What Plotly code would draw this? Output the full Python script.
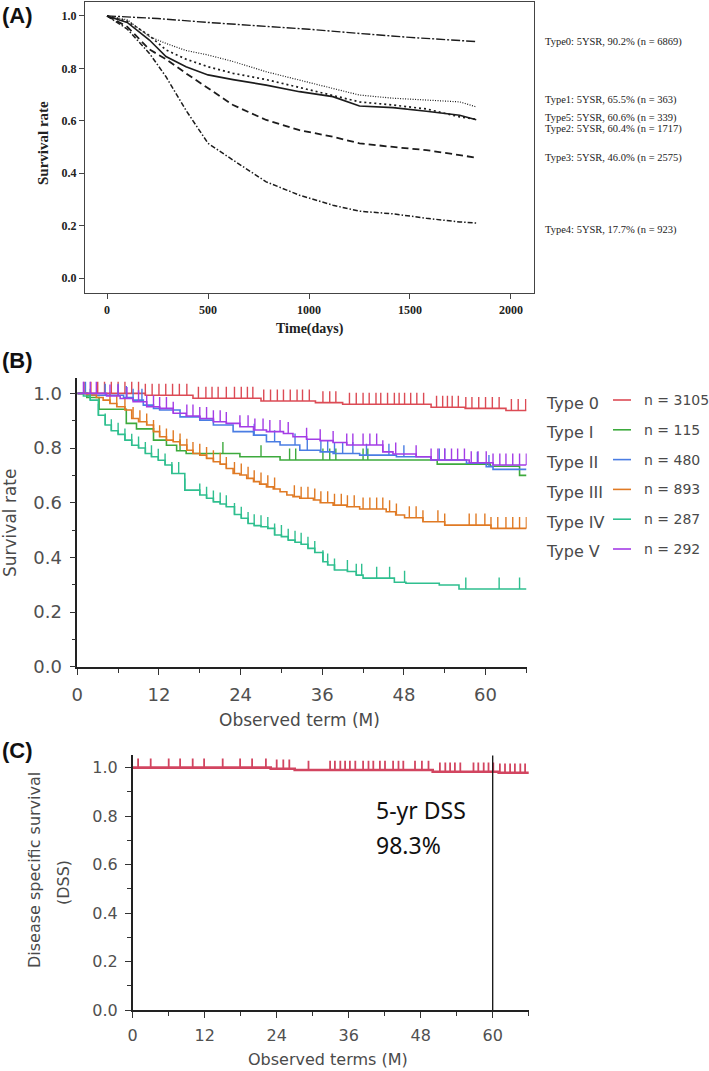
import plotly.graph_objects as go

# ---------------- Panel A data (days, survival) ----------------
a_type0_days = [0, 250, 500, 750, 1000, 1250, 1500, 1828]
a_type0_surv = [1.0, 0.99, 0.975, 0.962, 0.949, 0.933, 0.918, 0.902]
a_days = [0, 100, 210, 292, 391, 500, 624, 788, 953, 1118, 1250, 1416, 1581, 1746, 1828]
a_type1_surv = [1.0, 0.985, 0.921, 0.895, 0.868, 0.851, 0.826, 0.787, 0.755, 0.724, 0.698, 0.686, 0.679, 0.672, 0.653]
a_type5_surv = [1.0, 0.98, 0.925, 0.87, 0.835, 0.806, 0.781, 0.757, 0.727, 0.695, 0.672, 0.66, 0.645, 0.615, 0.606]
a_type2_surv = [1.0, 0.975, 0.908, 0.845, 0.806, 0.775, 0.757, 0.736, 0.711, 0.692, 0.656, 0.65, 0.636, 0.621, 0.604]
a_type3_surv = [1.0, 0.959, 0.872, 0.835, 0.781, 0.725, 0.66, 0.603, 0.564, 0.539, 0.514, 0.50, 0.488, 0.469, 0.459]
a_type4_surv = [1.0, 0.95, 0.857, 0.768, 0.64, 0.514, 0.45, 0.367, 0.316, 0.278, 0.255, 0.245, 0.228, 0.214, 0.21]
a_labels = [
    "Type0: 5YSR, 90.2% (n = 6869)",
    "Type1: 5YSR, 65.5% (n = 363)",
    "Type5: 5YSR, 60.6% (n = 339)",
    "Type2: 5YSR, 60.4% (n = 1717)",
    "Type3: 5YSR, 46.0% (n = 2575)",
    "Type4: 5YSR, 17.7% (n = 923)",
]
a_xticks = [0, 500, 1000, 1500, 2000]
a_yticks = [0.0, 0.2, 0.4, 0.6, 0.8, 1.0]

# ---------------- Panel B data (months, survival step points, censor times) ----------------
b_names = ["Type 0", "Type I", "Type II", "Type III", "Type IV", "Type V"]
b_n = [3105, 115, 480, 893, 287, 292]
b_end = 66

b0_t = [0, 10, 17, 27, 35, 39, 52, 57, 63]
b0_s = [1.0, 0.993, 0.982, 0.972, 0.966, 0.96, 0.949, 0.945, 0.937]
b0_c = [1, 2, 3, 4, 5, 6, 7, 8, 9, 10, 11, 12, 13, 14, 15, 16.1, 17.8, 18.9, 19.8, 20.7, 21.9,
        23.1, 24.1, 25, 25.8, 27.4, 28.4, 29.4, 30.3, 31.3, 32.3, 33.1, 34.1, 36.1, 37.1, 38,
        40, 41, 42, 42.9, 43.9, 44.6, 45.6, 46.6, 47.3, 48.1, 49, 49.9, 50.9, 52.8, 53.7, 54.4,
        55.1, 56, 57.1, 58, 59, 60, 61, 62, 63.8, 64.8, 65.9]

b1_t = [0, 1.4, 3.2, 7.2, 8.7, 11.2, 13.1, 14.6, 16, 23.9, 29.8, 52.9, 60.7, 65]
b1_s = [1.0, 0.985, 0.942, 0.89, 0.87, 0.829, 0.81, 0.79, 0.78, 0.768, 0.756, 0.741, 0.733, 0.70]
b1_c = [15.1, 21.4, 27, 31.2, 32.1, 36.1, 37.1, 38, 42, 42.7]

b2_t = [0, 1.5, 6.8, 8.2, 9.7, 11.2, 12.1, 15.1, 18, 20, 22.9, 25.9, 27.8, 29.8, 32.7, 35.7,
        37.6, 41.5, 46.9, 52, 57.2, 60.1, 61.1]
b2_s = [1.0, 0.993, 0.985, 0.975, 0.957, 0.945, 0.939, 0.914, 0.902, 0.884, 0.86, 0.847, 0.823,
        0.811, 0.792, 0.786, 0.78, 0.774, 0.768, 0.756, 0.744, 0.732, 0.722]
b2_c = [1.2, 4.1, 6.0, 7.2, 8.2, 9.5, 26, 29, 32, 33.8, 35.8, 36.8, 37.8, 39, 40.5, 42.5, 45.8,
        48, 53.2, 54, 58.8, 60.5]

b3_t = [0, 1.4, 2.8, 3.8, 4.8, 5.8, 7, 8, 9, 10.2, 11.2, 12.1, 13.1, 14.1, 15.1, 16.1, 17, 18,
        19, 20, 21, 21.9, 22.9, 23.9, 24.9, 25.9, 26.8, 27.8, 28.8, 29.8, 30.8, 31.7, 32.7, 34.7,
        35.7, 37.6, 39.6, 41.5, 45.4, 46.8, 48.1, 50.8, 54, 60.8]
b3_s = [1.0, 0.994, 0.985, 0.975, 0.963, 0.951, 0.939, 0.908, 0.896, 0.884, 0.86, 0.841, 0.829,
        0.823, 0.811, 0.792, 0.78, 0.774, 0.762, 0.75, 0.741, 0.725, 0.707, 0.701, 0.689, 0.677,
        0.668, 0.658, 0.65, 0.64, 0.628, 0.622, 0.616, 0.61, 0.6, 0.591, 0.585, 0.577, 0.567,
        0.555, 0.545, 0.53, 0.518, 0.506]
b3_c = [4.8, 5.8, 7, 8.2, 9.2, 10.2, 11.2, 12.1, 13.1, 14.1, 15.1, 16.1, 17, 18, 19, 20, 21,
        21.9, 23.1, 24.1, 25.1, 26, 27, 28, 29, 31.9, 32.9, 33.9, 34.9, 35.8, 36.8, 37.8, 38.8,
        39.7, 40.7, 42, 43, 44, 44.9, 45.9, 46.9, 48.8, 49.8, 50.8, 53, 54, 57.6, 58.6, 59.9,
        60.8, 61.8, 63, 64, 65, 66]

b4_t = [0, 0.9, 1.9, 3.1, 4.1, 5, 6, 7, 8, 9, 10, 10.9, 11.9, 12.9, 13.9, 15.8, 18, 19, 20, 21,
        21.9, 23.1, 24.1, 25.1, 26, 27, 28, 29, 30, 31, 32, 32.9, 33.9, 34.9, 36.1, 36.8, 37.8,
        39.7, 41, 42, 46.6, 48.3, 53.2, 56.1]
b4_s = [1.0, 0.99, 0.975, 0.92, 0.884, 0.863, 0.85, 0.829, 0.81, 0.8, 0.78, 0.768, 0.755, 0.738,
        0.707, 0.646, 0.628, 0.616, 0.603, 0.595, 0.585, 0.557, 0.543, 0.524, 0.516, 0.512, 0.506,
        0.482, 0.476, 0.463, 0.455, 0.448, 0.433, 0.418, 0.384, 0.372, 0.354, 0.348, 0.335, 0.324,
        0.309, 0.305, 0.299, 0.284]
b4_c = [1.9, 3.1, 4.1, 5, 6, 7, 8, 9, 10, 10.9, 11.9, 12.9, 13.9, 14.9, 15.8, 18, 19, 20, 21,
        21.9, 23.1, 24.1, 25.1, 26, 27, 28, 29, 30, 31, 32, 32.9, 33.9, 34.9, 36.1, 36.8, 37.8,
        39.7, 41, 41.8, 44, 45.9, 48.1, 57.1, 62, 65]

b5_t = [0, 4.3, 6.3, 8.2, 10.2, 12.1, 14.1, 16, 18, 20, 21.9, 23.9, 25.9, 27.8, 30.3, 31.7,
        33.7, 35.7, 37.6, 39.6, 44.9, 46.4, 49.8, 52, 57.6, 61.1]
b5_s = [1.0, 0.99, 0.981, 0.969, 0.951, 0.945, 0.927, 0.917, 0.908, 0.896, 0.89, 0.878, 0.866,
        0.86, 0.853, 0.841, 0.832, 0.827, 0.82, 0.811, 0.786, 0.778, 0.768, 0.756, 0.746, 0.738]
b5_c = [0.9, 1.9, 2.8, 4.8, 6.0, 7.3, 9.0, 10.2, 11.2, 12.1, 13.1, 14.1, 16.1, 17.0, 18.0, 19.0,
        20.0, 21.0, 21.9, 23.9, 25.1, 26.1, 27.3, 28.3, 29.8, 31.0, 33.7, 35.7, 37.6, 39.6, 40.5,
        42.0, 43.0, 44.0, 44.9, 46.8, 49.8, 52.0, 53.0, 54.0, 55.0, 55.9, 56.9, 57.9, 58.9, 60.1,
        61.1, 62.1, 63.0, 64.0, 65.0, 66.0]

# ---------------- Panel C data ----------------
c_t = [0, 23, 27, 50, 61]
c_s = [1.0, 0.995, 0.99, 0.983, 0.979]
c_c = [0.9, 3.0, 6.0, 7.9, 10.0, 11.9, 15.0, 17.9, 19.9, 22.2, 24.0, 25.1, 26.1, 29.3, 32.9, 33.7,
       34.6, 35.4, 36.2, 37.1, 38.4, 39.3, 40.1, 41.2, 42.05, 43.4, 44.3, 45.1, 47.05, 48.2, 49.3,
       51.2, 52.1, 52.9, 53.7, 54.6, 56.8, 57.6, 58.5, 59.3, 60.1, 61.2, 62.05, 62.9, 63.7, 64.6,
       65.4]
c_end = 66
c_mark_month = 60
c_note = ["5-yr DSS", "98.3%"]

# ---------------- layout helpers ----------------
W, H = 709, 1071


def X(px):
    return px / W


def Y(py):
    return 1 - py / H


def step_at(times, surv, t):
    v = surv[0]
    for ti, si in zip(times, surv):
        if ti <= t:
            v = si
        else:
            break
    return v


fig = go.Figure()

# ---- Panel A traces ----
INK = "#1c1c1c"
a_specs = [
    (a_type0_days, a_type0_surv, "9px,2px,2px,2px", 1.4),
    (a_days, a_type1_surv, "1px,1.5px", 1.2),
    (a_days, a_type5_surv, "2px,3px", 1.7),
    (a_days, a_type2_surv, "solid", 1.6),
    (a_days, a_type3_surv, "7px,4px", 1.8),
    (a_days, a_type4_surv, "5px,2px,1.5px,2px", 1.5),
]
for xs, ys, dash, w in a_specs:
    fig.add_trace(go.Scatter(x=xs, y=ys, mode="lines", xaxis="x", yaxis="y",
                             line=dict(color=INK, width=w, dash=dash),
                             showlegend=False, hoverinfo="skip"))

# ---- Panel B traces ----
b_colors = ["#dc4b55", "#3daa3d", "#4a7de3", "#e07a24", "#2fbf8f", "#a43ce6"]
b_series = [(b0_t, b0_s, b0_c), (b1_t, b1_s, b1_c), (b2_t, b2_s, b2_c),
            (b3_t, b3_s, b3_c), (b4_t, b4_s, b4_c), (b5_t, b5_s, b5_c)]
B_TICK = 0.042
for (ts, ss, cs), col in zip(b_series, b_colors):
    fig.add_trace(go.Scatter(x=ts + [b_end], y=ss + [ss[-1]], mode="lines", xaxis="x2", yaxis="y2",
                             line=dict(color=col, width=1.6, shape="hv"),
                             showlegend=False, hoverinfo="skip"))
    tx, ty = [], []
    for c in cs:
        v = step_at(ts, ss, c)
        tx += [c, c, None]
        ty += [v, v + B_TICK, None]
    fig.add_trace(go.Scatter(x=tx, y=ty, mode="lines", xaxis="x2", yaxis="y2",
                             line=dict(color=col, width=1.4),
                             showlegend=False, hoverinfo="skip"))

# ---- Panel C traces ----
C_COL = "#d24560"
C_TICK = 0.038
fig.add_trace(go.Scatter(x=c_t + [c_end], y=c_s + [c_s[-1]], mode="lines", xaxis="x3", yaxis="y3",
                         line=dict(color=C_COL, width=2.6, shape="hv"),
                         showlegend=False, hoverinfo="skip"))
tx, ty = [], []
for c in c_c:
    v = step_at(c_t, c_s, c)
    tx += [c, c, None]
    ty += [v, v + C_TICK, None]
fig.add_trace(go.Scatter(x=tx, y=ty, mode="lines", xaxis="x3", yaxis="y3",
                         line=dict(color=C_COL, width=1.8),
                         showlegend=False, hoverinfo="skip"))

# ---------------- axes ----------------
serif_tick = dict(family="Liberation Serif", size=12, color="#222", weight="bold")
axA = dict(showline=True, mirror=True, linecolor="#444", linewidth=1.3, ticks="outside",
           ticklen=5, tickcolor="#444", tickwidth=1.2, showgrid=False, zeroline=False,
           tickfont=serif_tick, automargin=False)

sans_tick = dict(family="DejaVu Sans", size=18, color="#505050")
axB = dict(showline=True, linecolor="#222", linewidth=1.6, ticks="outside", ticklen=6,
           tickcolor="#333", tickwidth=1.3, showgrid=False, zeroline=False, tickfont=sans_tick,
           automargin=False)
axC = dict(axB)
axC["tickfont"] = dict(family="DejaVu Sans", size=16, color="#505050")

fig.update_layout(
    width=W, height=H, autosize=False,
    margin=dict(l=0, r=0, t=0, b=0),
    paper_bgcolor="white", plot_bgcolor="white",
    xaxis=dict(axA, domain=[X(85), X(534)], range=[-109, 2114], anchor="y",
               tickvals=a_xticks),
    yaxis=dict(axA, domain=[Y(293), Y(2)], range=[-0.057, 1.053], anchor="x",
               tickvals=a_yticks, tickformat=".1f"),
    xaxis2=dict(axB, domain=[X(77.3), X(526.7)], range=[0, 66.05], anchor="y2",
                tick0=0, dtick=12, ticklabelstandoff=5,
                minor=dict(ticks="outside", ticklen=4, tick0=0, dtick=6, tickcolor="#333")),
    yaxis2=dict(axB, domain=[Y(666.7), Y(378.3)], range=[0, 1.055], anchor="x2",
                tick0=0, dtick=0.2, tickformat=".1f", ticklabelstandoff=4,
                minor=dict(ticks="outside", ticklen=4, tick0=0, dtick=0.1, tickcolor="#333")),
    xaxis3=dict(axC, domain=[X(132.7), X(529)], range=[0, 66.05], anchor="y3",
                tick0=0, dtick=12, ticklabelstandoff=4,
                minor=dict(ticks="outside", ticklen=4, tick0=0, dtick=6, tickcolor="#333")),
    yaxis3=dict(axC, domain=[Y(1010), Y(755)], range=[0, 1.052], anchor="x3",
                tick0=0, dtick=0.2, tickformat=".1f", ticklabelstandoff=4,
                minor=dict(ticks="outside", ticklen=4, tick0=0, dtick=0.1, tickcolor="#333")),
)

# 60-month reference line in panel C
fig.add_shape(type="line", xref="x3", yref="y3", x0=c_mark_month, x1=c_mark_month, y0=0, y1=1.05,
              line=dict(color="#111", width=1.3))

ann = []


def note(text, px, py, font, xanchor="center", angle=0):
    ann.append(dict(text=text, x=X(px), y=Y(py), xref="paper", yref="paper",
                    xanchor=xanchor, yanchor="middle", textangle=angle,
                    showarrow=False, font=font))


panel_font = dict(family="Liberation Sans", size=22, color="#111", weight="bold")
for lab, py in [("(A)", 16), ("(B)", 360), ("(C)", 750)]:
    note(lab, 0, py, panel_font, xanchor="left")

# Panel A texts
note("Survival rate", 43, 143,
     dict(family="Liberation Serif", size=15, color="#222", weight="bold"), angle=-90)
note("Time(days)", 310, 329,
     dict(family="Liberation Serif", size=14, color="#222", weight="bold"))
for lab, py in zip(a_labels, [42, 100, 118, 129, 158, 230]):
    note(lab, 543, py, dict(family="Liberation Serif", size=10.5, color="#222"), xanchor="left")

# Panel B texts
gray = "#4a4a4a"
note("Survival rate", 10, 523, dict(family="DejaVu Sans", size=17, color=gray), angle=-90)
note("Observed term (M)", 299, 720, dict(family="DejaVu Sans", size=17, color=gray))
for i, (nm, n, col) in enumerate(zip(b_names, b_n, b_colors)):
    yc = 403 + 29.8 * i
    note(nm, 544, yc, dict(family="DejaVu Sans", size=16, color=gray), xanchor="left")
    note(f"n = {n}", 642, yc - 3, dict(family="DejaVu Sans", size=14, color=gray), xanchor="left")
    fig.add_shape(type="line", xref="paper", yref="paper", x0=X(613), x1=X(631),
                  y0=Y(yc - 3), y1=Y(yc - 3), line=dict(color=col, width=1.6))

# Panel C texts
note("Disease specific survival", 34, 870, dict(family="DejaVu Sans", size=16, color=gray), angle=-90)
note("(DSS)", 63, 883, dict(family="DejaVu Sans", size=16, color=gray), angle=-90)
note("Observed terms (M)", 328, 1059, dict(family="DejaVu Sans", size=16, color=gray))
for txt, py in zip(c_note, [810, 845]):
    note(txt, 374, py, dict(family="Noto Sans", size=23, color="#111"), xanchor="left")

fig.update_layout(annotations=ann)
fig.write_html("out.html", config={"displayModeBar": False},
               post_script="document.body.style.margin='0';document.body.style.overflow='hidden';")
